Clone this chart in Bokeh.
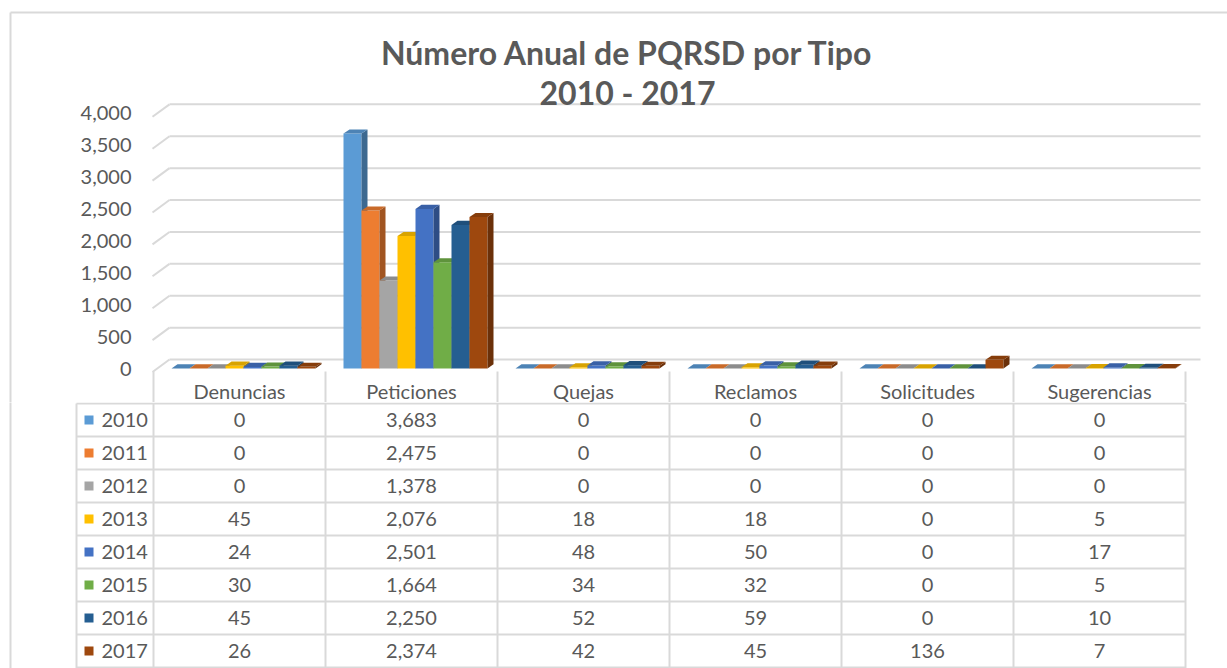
from bokeh.plotting import figure
from bokeh.models import Range1d, FixedTicker, NumeralTickFormatter
from bokeh.layouts import column
from bokeh.core.properties import value
from bokeh.embed import file_html
from bokeh.resources import INLINE

# ---------------- data ----------------
categories = ["Denuncias", "Peticiones", "Quejas", "Reclamos", "Solicitudes", "Sugerencias"]
years = ["2010", "2011", "2012", "2013", "2014", "2015", "2016", "2017"]
v2010 = [0, 3683, 0, 0, 0, 0]
v2011 = [0, 2475, 0, 0, 0, 0]
v2012 = [0, 1378, 0, 0, 0, 0]
v2013 = [45, 2076, 18, 18, 0, 5]
v2014 = [24, 2501, 48, 50, 0, 17]
v2015 = [30, 1664, 34, 32, 0, 5]
v2016 = [45, 2250, 52, 59, 0, 10]
v2017 = [26, 2374, 42, 45, 136, 7]
series = [v2010, v2011, v2012, v2013, v2014, v2015, v2016, v2017]
colors = ["#5B9BD5", "#ED7D31", "#A5A5A5", "#FFC000", "#4472C4", "#70AD47", "#255E91", "#9E480E"]
y_ticks = [0, 500, 1000, 1500, 2000, 2500, 3000, 3500, 4000]
title_lines = ["Número Anual de PQRSD por Tipo", "2010 - 2017"]

# ---------------- style / geometry ----------------
FONT = "Lato"
TXT = "#595959"
GRID = "#d9d9d9"
BORDER = "#d9d9d9"
W = 1227
PX_CAT = 172.0            # px per category
X0_PX = 153.0             # screen x of category 0
PX_V = 0.0638             # px per value unit
Y0_PX = 368.0             # screen y of value 0


def xs_(px):   # screen x -> category units (layout constant helper)
    return (px - X0_PX) / PX_CAT


def vs_(py):   # screen y -> value units (layout constant helper)
    return (Y0_PX - py) / PX_V


BAR_W = 18 / PX_CAT
BAR_OFF = 18 / PX_CAT
DX = 6 / PX_CAT
DY = 65
WALL_X = xs_(169)
WALL_DY_BACK = 140
WALL_DY_FRONT = -55
x_front = xs_(152)
x_grid_end = xs_(1200)
H1 = 402
H2 = 668 - H1
ROW_PX = 33.0


def shade(hexc, f):
    h = hexc.lstrip("#")
    r, g, b = (int(h[i:i + 2], 16) for i in (0, 2, 4))
    return "#%02x%02x%02x" % (int(r * f), int(g * f), int(b * f))


x_range1 = Range1d(xs_(0), xs_(W))
# ---------------- chart figure ----------------
p1 = figure(width=W, height=H1, x_range=x_range1, y_range=Range1d(vs_(H1), vs_(0)),
            min_border_left=0, min_border_right=0, min_border_top=0, min_border_bottom=0,
            x_axis_location=None, toolbar_location=None, output_backend="svg")
p1.outline_line_color = None
p1.xgrid.visible = False
p1.ygrid.visible = False
ax = p1.yaxis[0]
ax.fixed_location = x_front
ax.ticker = FixedTicker(ticks=y_ticks)
ax.formatter = NumeralTickFormatter(format="0,0")
ax.axis_line_color = None
ax.major_tick_line_color = None
ax.minor_tick_line_color = None
ax.major_label_standoff = 15
ax.major_label_text_font = FONT
ax.major_label_text_font_size = "20px"
ax.major_label_text_color = TXT

# chart border (top + left)
p1.segment(x0=[xs_(10), xs_(10)], y0=[vs_(12), vs_(12)], x1=[xs_(W), xs_(10)], y1=[vs_(12), vs_(H1)],
           line_color=BORDER, line_width=2)

# walls / gridlines
nt = len(y_ticks)
p1.segment(x0=[x_front] * nt, y0=[t + WALL_DY_FRONT for t in y_ticks],
           x1=[WALL_X] * nt, y1=[t + WALL_DY_BACK for t in y_ticks],
           line_color=GRID, line_width=2)
p1.segment(x0=[WALL_X] * nt, y0=[t + WALL_DY_BACK for t in y_ticks],
           x1=[x_grid_end] * nt, y1=[t + WALL_DY_BACK for t in y_ticks],
           line_color=GRID, line_width=2)

# 3D bars
pxs, pys, fills = [], [], []
for c in range(len(categories)):
    for s, vals in enumerate(series):
        v = vals[c]
        x0 = c + BAR_OFF + s * BAR_W
        x1 = x0 + BAR_W
        pxs.append([x0, x1, x1, x0]); pys.append([0, 0, v, v]); fills.append(colors[s])
        pxs.append([x1, x1 + DX, x1 + DX, x1]); pys.append([0, DY, v + DY, v]); fills.append(shade(colors[s], 0.68))
        pxs.append([x0, x1, x1 + DX, x0 + DX]); pys.append([v, v, v + DY, v + DY]); fills.append(shade(colors[s], 0.85))
p1.patches(xs=pxs, ys=pys, fill_color=fills, line_color=None)

# title
p1.text(x=[xs_(627)] * 2, y=[vs_(52), vs_(92)], text=title_lines, text_align="center",
        text_baseline="middle", text_font=value(FONT), text_font_style="bold",
        text_font_size="32px", text_color=TXT)

# data-table header row (category names) with its vertical rules
nc = len(categories)
p1.segment(x0=list(range(nc + 1)), y0=[vs_(371)] * (nc + 1), x1=list(range(nc + 1)), y1=[vs_(H1)] * (nc + 1),
           line_color=GRID, line_width=2)
p1.text(x=[c + 0.5 for c in range(nc)], y=[vs_(390)] * nc, text=categories,
        text_align="center", text_baseline="middle", text_font=value(FONT),
        text_font_size="20px", text_color=TXT)

# ---------------- data table figure ----------------
n = len(years)
p2 = figure(width=W, height=H2, x_range=x_range1,
            y_range=Range1d(-1 / ROW_PX, (667 - H1) / ROW_PX),
            min_border_left=0, min_border_right=0, min_border_top=0, min_border_bottom=0,
            x_axis_location=None, y_axis_location=None, toolbar_location=None, output_backend="svg")
p2.outline_line_color = None
p2.xgrid.visible = False
p2.ygrid.visible = False

LBL_LEFT = xs_(76)
# border left line
p2.segment(x0=[xs_(10)], y0=[-1], x1=[xs_(10)], y1=[n + 1], line_color=BORDER, line_width=2)
# horizontal rules
p2.segment(x0=[LBL_LEFT] * (n + 1), y0=list(range(n + 1)), x1=[nc] * (n + 1), y1=list(range(n + 1)),
           line_color=GRID, line_width=2)
# vertical rules
vx = [LBL_LEFT] + list(range(nc + 1))
p2.segment(x0=vx, y0=[-1] * len(vx), x1=vx, y1=[n] * len(vx), line_color=GRID, line_width=2)

# cells
cx, cy, ct = [], [], []
for i, vals in enumerate(series):
    for c, v in enumerate(vals):
        cx.append(c + 0.5); cy.append(n - 0.5 - i); ct.append(f"{v:,}")
p2.text(x=cx, y=cy, text=ct, text_align="center", text_baseline="middle", text_font=value(FONT),
        text_font_size="20px", text_color=TXT)
# legend keys + years
ry = [n - 0.5 - i for i in range(n)]
p2.rect(x=[xs_(88.5)] * n, y=ry, width=9, height=9, width_units="screen", height_units="screen",
        fill_color=colors, line_color=None)
p2.text(x=[xs_(101)] * n, y=ry, text=years, text_align="left", text_baseline="middle",
        text_font=value(FONT), text_font_size="20px", text_color=TXT)

layout = column(p1, p2, spacing=0)
open("out.html", "w").write(file_html(layout, INLINE))
